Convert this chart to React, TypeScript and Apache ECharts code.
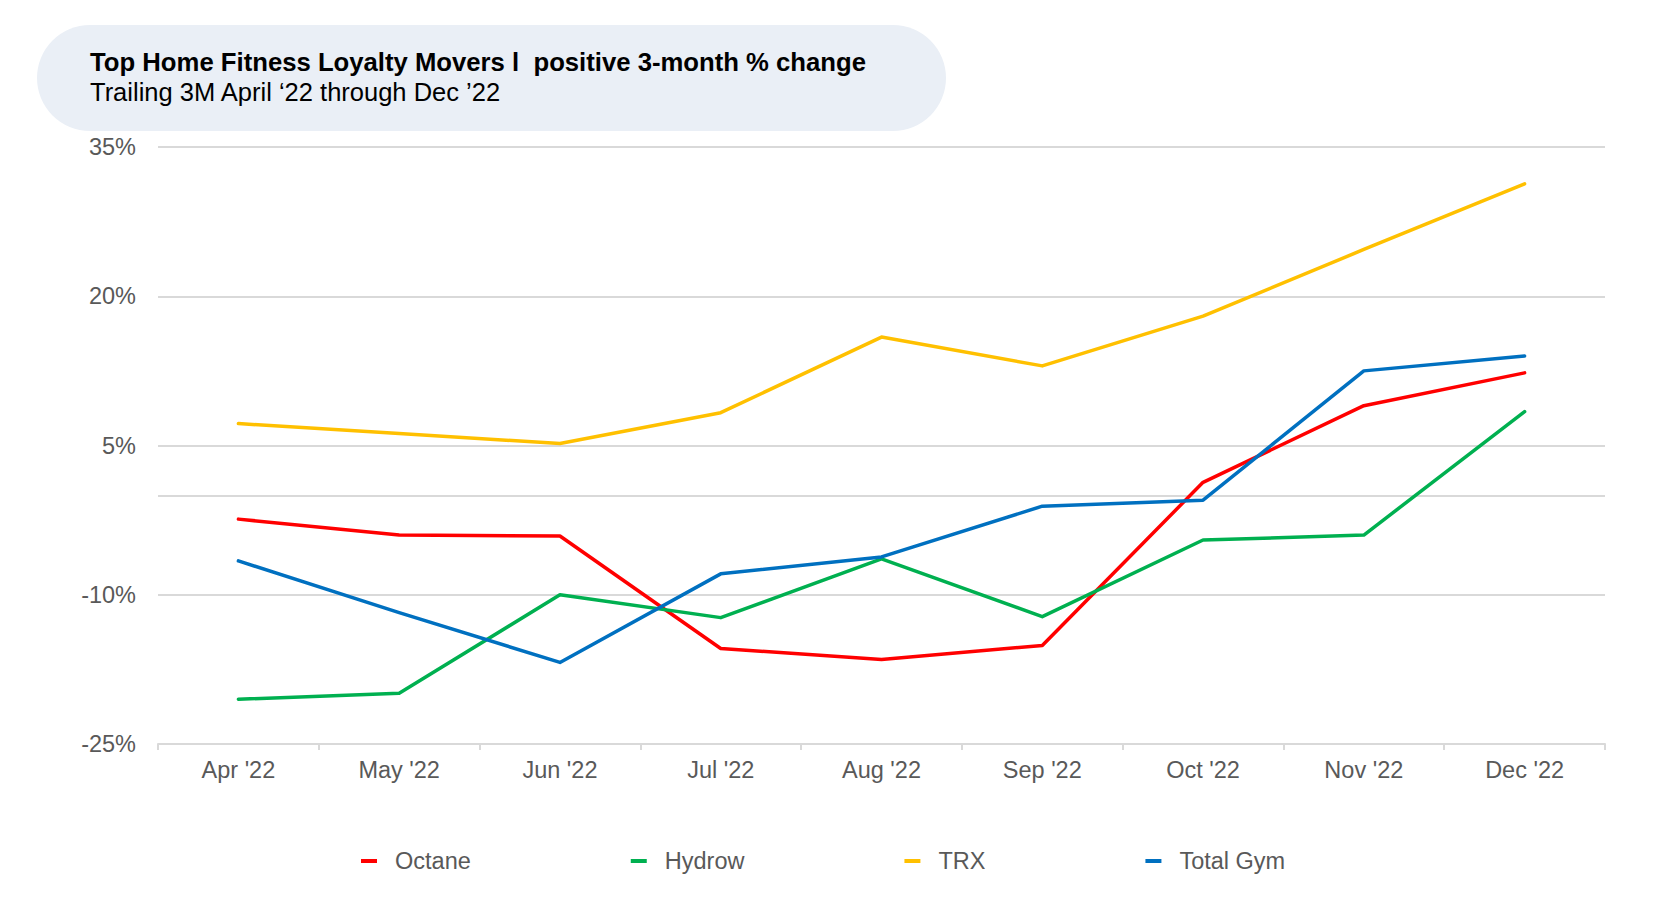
import React, { useEffect, useRef } from "react";
import * as echarts from "echarts";

const categories = ["Apr '22", "May '22", "Jun '22", "Jul '22", "Aug '22", "Sep '22", "Oct '22", "Nov '22", "Dec '22"];
const octane = [-2.4, -4.0, -4.1, -15.4, -16.5, -15.1, 1.3, 9.0, 12.3];
const hydrow = [-20.5, -19.9, -10.0, -12.3, -6.4, -12.2, -4.5, -4.0, 8.4];
const trx = [7.2, 6.2, 5.2, 8.3, 15.9, 13.0, 18.0, 24.7, 31.3];
const totalGym = [-6.6, -11.8, -16.8, -7.9, -6.2, -1.1, -0.5, 12.5, 14.0];
const seriesNames = ["Octane", "Hydrow", "TRX", "Total Gym"];
const colors = ["#ff0000", "#00b050", "#ffc000", "#0070c0"];
const yMin = -25;
const yMax = 35;
const yInterval = 15;
const titleText = "Top Home Fitness Loyalty Movers l  positive 3-month % change";
const subtitleText = "Trailing 3M April \u201822 through Dec \u201922";

const FONT = "'Liberation Sans', Arial, Helvetica, sans-serif";

export default function App() {
  const ref = useRef<HTMLDivElement>(null);
  useEffect(() => {
    if (!ref.current) return;
    const chart = echarts.init(ref.current, null, { renderer: "svg" });
    const datasets = [octane, hydrow, trx, totalGym];
    chart.setOption({
      animation: false,
      backgroundColor: "#ffffff",
      textStyle: { fontFamily: FONT },
      graphic: [
        {
          type: "rect",
          shape: { x: 37, y: 25, width: 909, height: 106, r: 53 },
          style: { fill: "#eaeff6" },
          z: 0,
        },
        {
          type: "text",
          x: 90,
          y: 62,
          style: {
            text: titleText,
            font: `bold 25.7px ${FONT}`,
            fill: "#000000",
            verticalAlign: "middle",
          },
          z: 1,
        },
        {
          type: "text",
          x: 90,
          y: 92,
          style: {
            text: subtitleText,
            font: `25.5px ${FONT}`,
            fill: "#000000",
            verticalAlign: "middle",
          },
          z: 1,
        },
      ],
      grid: { left: 158, right: 73, top: 147, bottom: 174, containLabel: false },
      legend: {
        data: seriesNames,
        left: 356,
        top: 844,
        itemGap: 160,
        itemWidth: 16,
        itemHeight: 4,
        icon: "rect",
        textStyle: { fontSize: 23.5, color: "#595959", fontFamily: FONT, padding: [0, 0, 0, 13] },
      },
      xAxis: {
        type: "category",
        data: categories,
        boundaryGap: true,
        axisLine: { show: true, onZero: false, lineStyle: { color: "#d9d9d9", width: 2 } },
        axisTick: { show: true, length: 6, lineStyle: { color: "#d9d9d9", width: 2 } },
        axisLabel: { fontSize: 23.5, color: "#595959", margin: 14, fontFamily: FONT },
        splitLine: { show: false },
      },
      yAxis: {
        type: "value",
        min: yMin,
        max: yMax,
        interval: yInterval,
        axisLine: { show: false },
        axisTick: { show: false },
        axisLabel: { fontSize: 23.5, color: "#595959", margin: 22, formatter: "{value}%", fontFamily: FONT },
        splitLine: { show: true, lineStyle: { color: "#d9d9d9", width: 2 } },
      },
      series: seriesNames.map((name, i) => ({
        name,
        type: "line",
        data: datasets[i],
        color: colors[i],
        symbol: "none",
        lineStyle: { width: 3.5, color: colors[i], cap: "round", join: "round" },
        z: 3,
        markLine:
          i === 0
            ? {
                silent: true,
                symbol: "none",
                label: { show: false },
                lineStyle: { color: "#d9d9d9", width: 2, type: "solid" },
                data: [{ yAxis: 0 }],
                z: 1,
              }
            : undefined,
      })),
    });
    return () => chart.dispose();
  }, []);
  return (
    <div
      ref={ref}
      style={{ position: "fixed", left: 0, top: 0, width: 1678, height: 918 }}
    />
  );
}
